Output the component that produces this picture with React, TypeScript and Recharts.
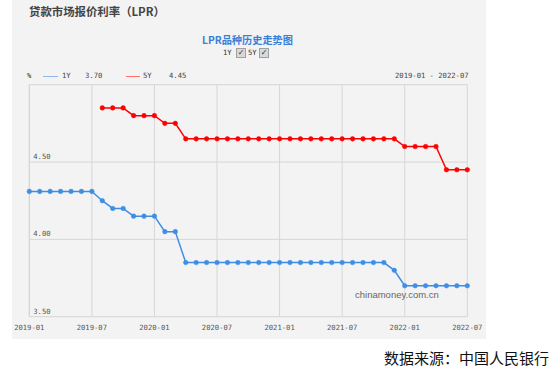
import React from 'react';
import { LineChart, Line, XAxis, YAxis, CartesianGrid } from 'recharts';

const months = [
  '2019-01', '2019-02', '2019-03', '2019-04', '2019-05', '2019-06', '2019-07', '2019-08', '2019-09', '2019-10', '2019-11', '2019-12',
  '2020-01', '2020-02', '2020-03', '2020-04', '2020-05', '2020-06', '2020-07', '2020-08', '2020-09', '2020-10', '2020-11', '2020-12',
  '2021-01', '2021-02', '2021-03', '2021-04', '2021-05', '2021-06', '2021-07', '2021-08', '2021-09', '2021-10', '2021-11', '2021-12',
  '2022-01', '2022-02', '2022-03', '2022-04', '2022-05', '2022-06', '2022-07',
];

// 1年期 LPR
const lpr1y = [
  4.31, 4.31, 4.31, 4.31, 4.31, 4.31, 4.31, 4.25, 4.20, 4.20, 4.15, 4.15,
  4.15, 4.05, 4.05, 3.85, 3.85, 3.85, 3.85, 3.85, 3.85, 3.85, 3.85, 3.85,
  3.85, 3.85, 3.85, 3.85, 3.85, 3.85, 3.85, 3.85, 3.85, 3.85, 3.85, 3.80,
  3.70, 3.70, 3.70, 3.70, 3.70, 3.70, 3.70,
];

// 5年期以上 LPR（2019-08 起）
const lpr5y = [
  null, null, null, null, null, null, null, 4.85, 4.85, 4.85, 4.80, 4.80,
  4.80, 4.75, 4.75, 4.65, 4.65, 4.65, 4.65, 4.65, 4.65, 4.65, 4.65, 4.65,
  4.65, 4.65, 4.65, 4.65, 4.65, 4.65, 4.65, 4.65, 4.65, 4.65, 4.65, 4.65,
  4.60, 4.60, 4.60, 4.60, 4.45, 4.45, 4.45,
];

const xTicks = ['2019-01', '2019-07', '2020-01', '2020-07', '2021-01', '2021-07', '2022-01', '2022-07'];
const yTicks = [3.5, 4.0, 4.5, 5.0];

const data = months.map((m, i) => ({ month: m, y1: lpr1y[i], y5: lpr5y[i] }));

const MONO = '"DejaVu Sans Mono", monospace';
const CJK = '"Noto Sans CJK SC", sans-serif';

function YTick(props: any) {
  const { x, y, payload } = props;
  if (payload.value >= 5) return null;
  return (
    <text x={x} y={y - 3} fontSize={7.2} fill="#555" fontFamily={MONO} textAnchor="start">
      {payload.value.toFixed(2)}
    </text>
  );
}

function CheckBox({ left }: { left: number }) {
  return (
    <div style={{
      position: 'absolute', left, top: 48, width: 8, height: 8,
      background: '#d8d8d8', border: '1px solid #a0a0a0', fontSize: 8, lineHeight: '8px',
      textAlign: 'center', color: '#333', fontFamily: 'DejaVu Sans',
    }}>✓</div>
  );
}

const abs = (left: number, top: number, extra: any = {}) => ({ position: 'absolute' as const, left, top, whiteSpace: 'nowrap' as const, ...extra });

export default function App() {
  return (
    <div style={{ position: 'absolute', left: 0, top: 0, width: 552, height: 376, background: '#fff', overflow: 'hidden' }}>
      <div style={{ position: 'absolute', left: 12, top: 0, width: 474, height: 339, background: '#f3f3f3' }} />
      <div style={abs(29, 3, { fontSize: 11.4, fontWeight: 'bold', color: '#444', fontFamily: CJK, lineHeight: '16px' })}>
        贷款市场报价利率（LPR）
      </div>
      <div style={abs(202, 32, { fontSize: 10.2, fontWeight: 'bold', color: '#3a80d8', fontFamily: CJK, lineHeight: '16px' })}>
        LPR品种历史走势图
      </div>
      <div style={abs(223, 48, { fontSize: 7.2, color: '#333', fontFamily: MONO, lineHeight: '10px' })}>1Y</div>
      <CheckBox left={236} />
      <div style={abs(248, 48, { fontSize: 7.2, color: '#333', fontFamily: MONO, lineHeight: '10px' })}>5Y</div>
      <CheckBox left={259} />

      <div style={abs(27, 71, { fontSize: 7.2, color: '#444', fontFamily: MONO, lineHeight: '10px' })}>%</div>
      <div style={{ position: 'absolute', left: 43, top: 76, width: 15, height: 1, background: '#8db9f0' }} />
      <div style={abs(62, 71, { fontSize: 7.2, color: '#444', fontFamily: MONO, lineHeight: '10px' })}>1Y</div>
      <div style={abs(85, 71, { fontSize: 7.2, color: '#444', fontFamily: MONO, lineHeight: '10px' })}>3.70</div>
      <div style={{ position: 'absolute', left: 126, top: 76, width: 14, height: 1, background: '#ff7070' }} />
      <div style={abs(143, 71, { fontSize: 7.2, color: '#444', fontFamily: MONO, lineHeight: '10px' })}>5Y</div>
      <div style={abs(169, 71, { fontSize: 7.2, color: '#444', fontFamily: MONO, lineHeight: '10px' })}>4.45</div>
      <div style={abs(395, 71, { fontSize: 7.2, color: '#444', fontFamily: MONO, lineHeight: '10px' })}>2019-01 - 2022-07</div>

      <div style={{ position: 'absolute', left: 0, top: 0 }}>
        <LineChart width={552} height={376} data={data} margin={{ top: 84.7, right: 84.7, bottom: 47.3, left: 29.3 }}>
          <CartesianGrid stroke="#d6d6d6" strokeWidth={1} />
          <XAxis
            dataKey="month"
            ticks={xTicks}
            interval={0}
            height={12}
            tickLine={false}
            axisLine={false}
            tick={{ fontSize: 7.2, fill: '#555', fontFamily: MONO }}
          />
          <YAxis
            type="number"
            domain={[3.5, 5]}
            ticks={yTicks}
            mirror
            tickSize={4}
            tickMargin={0}
            tickLine={false}
            axisLine={false}
            tick={<YTick />}
          />
          <Line
            dataKey="y1"
            stroke="#3f8ee6"
            strokeWidth={1.5}
            dot={{ r: 2.3, fill: '#3f8ee6', stroke: '#3f8ee6', strokeWidth: 0.5 }}
            isAnimationActive={false}
          />
          <Line
            dataKey="y5"
            stroke="#ff0000"
            strokeWidth={1.5}
            dot={{ r: 2.3, fill: '#ff0000', stroke: '#ff0000', strokeWidth: 0.5 }}
            connectNulls={false}
            isAnimationActive={false}
          />
        </LineChart>
      </div>

      <div style={abs(355, 288, { fontSize: 9.5, color: '#666', fontFamily: '"Liberation Sans", sans-serif', lineHeight: '14px' })}>
        chinamoney.com.cn
      </div>
      <div style={abs(384, 349, { fontSize: 15, color: '#111', fontFamily: CJK, lineHeight: '18px' })}>
        数据来源：中国人民银行
      </div>
    </div>
  );
}
